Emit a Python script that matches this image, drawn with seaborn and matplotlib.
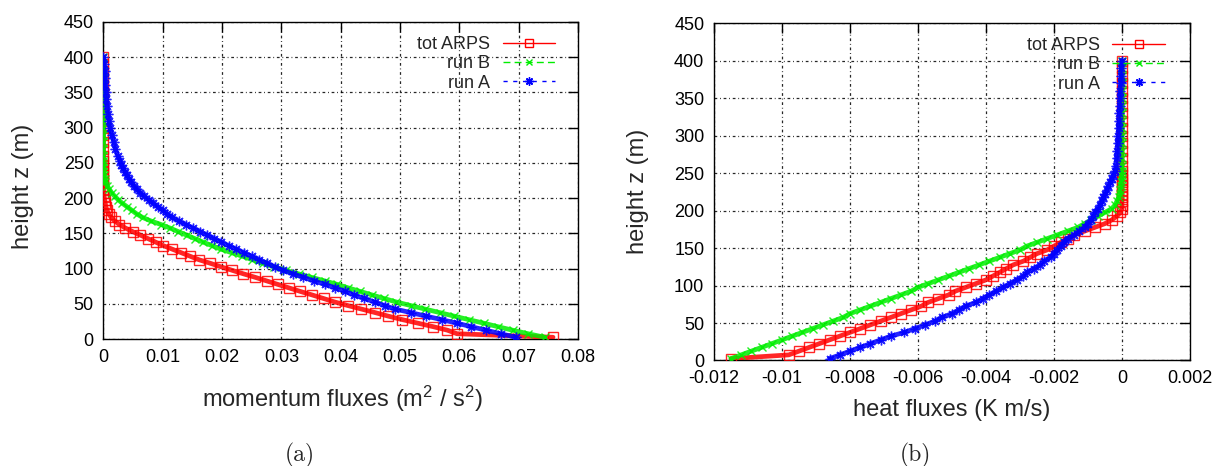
import matplotlib
matplotlib.use("Agg")
import matplotlib.pyplot as plt
import seaborn as sns

# ---------------- data ----------------
z = [2.5, 7.5, 12.5, 17.5, 22.5, 27.5, 32.5, 37.5, 42.5, 47.5,
     52.5, 57.5, 62.5, 67.5, 72.5, 77.5, 82.5, 87.5, 92.5, 97.5,
     102.5, 107.5, 112.5, 117.5, 122.5, 127.5, 132.5, 137.5, 142.5, 147.5,
     152.5, 157.5, 162.5, 167.5, 172.5, 177.5, 182.5, 187.5, 192.5, 197.5,
     202.5, 207.5, 212.5, 217.5, 222.5, 227.5, 232.5, 237.5, 242.5, 247.5,
     252.5, 260, 270, 280, 290, 300, 310, 320, 330, 340,
     350, 360, 370, 380, 390, 400]

mom_tot_arps = [0.0758, 0.0596, 0.0580, 0.0556, 0.0530, 0.0504, 0.0480, 0.0458, 0.0435, 0.0412,
                0.0390, 0.0371, 0.0352, 0.0332, 0.0313, 0.0294, 0.0275, 0.0256, 0.0236, 0.0217,
                0.0198, 0.0180, 0.0161, 0.0146, 0.0131, 0.0116, 0.0101, 0.0088, 0.0075, 0.0062,
                0.0049, 0.0037, 0.0027, 0.0019, 0.0013, 0.0009, 0.0006, 0.0004, 0.0003, 0.0002,
                0.0001, 0.0, 0.0, 0.0, 0.0, 0.0, 0.0, 0.0, 0.0, 0.0,
                0.0, 0.0, 0.0, 0.0, 0.0, 0.0, 0.0, 0.0, 0.0, 0.0,
                0.0, 0.0, 0.0, 0.0, 0.0, 0.0]

mom_run_b = [0.0744, 0.0716, 0.0690, 0.0665, 0.0641, 0.0616, 0.0591, 0.0567, 0.0542, 0.0518,
             0.0494, 0.0473, 0.0453, 0.0433, 0.0413, 0.0394, 0.0373, 0.0351, 0.0329, 0.0307,
             0.0287, 0.0269, 0.0251, 0.0234, 0.0216, 0.0198, 0.0183, 0.0168, 0.0154, 0.0140,
             0.0126, 0.0112, 0.0097, 0.0080, 0.0066, 0.0056, 0.0048, 0.0040, 0.0032, 0.0025,
             0.0019, 0.0014, 0.0010, 0.0006, 0.0003, 0.0002, 0.0001, 0.0, 0.0, 0.0,
             0.0, 0.0, 0.0, 0.0, 0.0, 0.0, 0.0, 0.0, 0.0, 0.0,
             0.0, 0.0, 0.0, 0.0, 0.0, 0.0]

mom_run_a = [0.0695, 0.0670, 0.0645, 0.0620, 0.0596, 0.0570, 0.0544, 0.0518, 0.0492, 0.0474,
             0.0457, 0.0440, 0.0423, 0.0407, 0.0391, 0.0373, 0.0355, 0.0337, 0.0320, 0.0302,
             0.0289, 0.0276, 0.0263, 0.0250, 0.0237, 0.0224, 0.0211, 0.0199, 0.0187, 0.0175,
             0.0163, 0.0151, 0.0139, 0.0127, 0.0116, 0.0107, 0.0100, 0.0092, 0.0084, 0.0076,
             0.0069, 0.0062, 0.0056, 0.0051, 0.0047, 0.0043, 0.0039, 0.0036, 0.0033, 0.0030,
             0.0028, 0.0024, 0.0020, 0.0017, 0.0014, 0.0011, 0.0009, 0.0008, 0.0006, 0.0005,
             0.0004, 0.0003, 0.0002, 0.0002, 0.0001, 0.0]

heat_tot_arps = [-0.0115, -0.0098, -0.0095, -0.0092, -0.0089, -0.0086, -0.0083, -0.0080, -0.0077, -0.0074,
                 -0.0071, -0.0068, -0.0065, -0.0062, -0.0059, -0.0057, -0.0054, -0.0051, -0.0049, -0.0046,
                 -0.0043, -0.0040, -0.0038, -0.0036, -0.0034, -0.0032, -0.0029, -0.0027, -0.0025, -0.0022,
                 -0.0020, -0.0018, -0.0016, -0.0014, -0.0011, -0.0008, -0.0005, -0.0003, -0.00015, -0.00005,
                 0.0, 0.0, 0.0, 0.0, 0.0, 0.0, 0.0, 0.0, 0.0, 0.0,
                 0.0, 0.0, 0.0, 0.0, 0.0, 0.0, 0.0, 0.0, 0.0, 0.0,
                 0.0, 0.0, 0.0, 0.0, 0.0, 0.0]

heat_run_b = [-0.0115, -0.0112, -0.0109, -0.0106, -0.0103, -0.0100, -0.0097, -0.0094, -0.0091, -0.0088,
              -0.0085, -0.0082, -0.0080, -0.0077, -0.0074, -0.0071, -0.0068, -0.0065, -0.0062, -0.0060,
              -0.0057, -0.0054, -0.0051, -0.0048, -0.0045, -0.0042, -0.0039, -0.0036, -0.0033, -0.0030,
              -0.0028, -0.0025, -0.0022, -0.0019, -0.0016, -0.0013, -0.0011, -0.0009, -0.0007, -0.0005,
              -0.0003, -0.0002, -0.00015, -0.0001, -0.00007, -0.00005, -0.00003, -0.00002, -0.00001, 0.0,
              0.0, 0.0, 0.0, 0.0, 0.0, 0.0, 0.0, 0.0, 0.0, 0.0,
              0.0, 0.0, 0.0, 0.0, 0.0, 0.0]

heat_run_a = [-0.0086, -0.0083, -0.0080, -0.0077, -0.0074, -0.0071, -0.0068, -0.0064, -0.0061, -0.0058,
              -0.0055, -0.0053, -0.0050, -0.0048, -0.0046, -0.0043, -0.0041, -0.0039, -0.0037, -0.0035,
              -0.0033, -0.0031, -0.0029, -0.0028, -0.0026, -0.0024, -0.0023, -0.0021, -0.0020, -0.0019,
              -0.0018, -0.0017, -0.0016, -0.0014, -0.00125, -0.0011, -0.0010, -0.0009, -0.00085, -0.0008,
              -0.0007, -0.00065, -0.0006, -0.00055, -0.0005, -0.00045, -0.0004, -0.00035, -0.0003, -0.00025,
              -0.0002, -0.00018, -0.00016, -0.00014, -0.00013, -0.00011, -0.0001, -0.00009, -0.00008, -0.00007,
              -0.00006, -0.00005, -0.00004, -0.00003, -0.00002, 0.0]

series_labels = ["tot ARPS", "run B", "run A"]

y_ticks = [0, 50, 100, 150, 200, 250, 300, 350, 400, 450]
mom_xticks = [0, 0.01, 0.02, 0.03, 0.04, 0.05, 0.06, 0.07, 0.08]
mom_xticklabels = ["0", "0.01", "0.02", "0.03", "0.04", "0.05", "0.06", "0.07", "0.08"]
heat_xticks = [-0.012, -0.010, -0.008, -0.006, -0.004, -0.002, 0.0, 0.002]
heat_xticklabels = ["-0.012", "-0.01", "-0.008", "-0.006", "-0.004", "-0.002", "0", "0.002"]

y_label = "height z (m)"
mom_xlabel = "momentum fluxes (m$^2$ / s$^2$)"
heat_xlabel = "heat fluxes (K m/s)"
captions = ["(a)", "(b)"]

# ---------------- style ----------------
sns.set_style("white")
plt.rcParams["font.family"] = ["Liberation Sans", "DejaVu Sans"]
plt.rcParams["mathtext.fontset"] = "custom"
plt.rcParams["mathtext.rm"] = "Liberation Sans"
plt.rcParams["mathtext.it"] = "Liberation Sans:italic"
plt.rcParams["axes.unicode_minus"] = False

styles = [
    dict(color="#ff0000", marker="s", markersize=6.5, markerfacecolor="none",
         markeredgecolor="#ff0000", markeredgewidth=1.0, linewidth=3.4, linestyle="-"),
    dict(color="#00ee00", marker="x", markersize=5.5, markerfacecolor="none",
         markeredgecolor="#00ee00", markeredgewidth=1.0, linewidth=3.4, linestyle="-"),
    dict(color="#0000ff", marker=(8, 2, 0), markersize=7, markerfacecolor="none",
         markeredgecolor="#0000ff", markeredgewidth=1.0, linewidth=3.4, linestyle="-"),
]
legend_ls = ["-", (0, (5, 3)), (0, (3, 4))]
legend_ms = [5.5, 5, 6]

fig = plt.figure(figsize=(12.26, 4.66), dpi=100)
ax1 = fig.add_axes([0.0844, 0.2725, 0.3870, 0.6805])
ax2 = fig.add_axes([0.5824, 0.2264, 0.3882, 0.7242])

panels = [
    (ax1, [mom_tot_arps, mom_run_b, mom_run_a], mom_xticks, mom_xticklabels,
     (0, 0.08), mom_xlabel, (0.503, -0.14), (-0.147, 0.48), (0.952, 0.955)),
    (ax2, [heat_tot_arps, heat_run_b, heat_run_a], heat_xticks, heat_xticklabels,
     (-0.012, 0.002), heat_xlabel, (0.5, -0.113), (-0.136, 0.5), (0.947, 0.958)),
]

for ax, series, xt, xtl, xlim, xlabel, xlab_pos, ylab_pos, leg_pos in panels:
    for vals, lab, st in zip(series, series_labels, styles):
        sns.lineplot(x=vals, y=z, sort=False, estimator=None, ax=ax,
                     label=lab, zorder=3, alpha=0.85, **st)
    ax.set_xlim(*xlim)
    ax.set_ylim(0, 450)
    ax.set_xticks(xt)
    ax.set_xticklabels(xtl)
    ax.set_yticks(y_ticks)
    ax.grid(True, color="black", linestyle=(0, (2.2, 2.2, 0.7, 2.2)),
            linewidth=0.9, alpha=0.85, zorder=0)
    ax.set_axisbelow(True)
    for sp in ax.spines.values():
        sp.set_visible(True)
        sp.set_color("black")
        sp.set_linewidth(1.0)
    ax.tick_params(direction="in", length=7, width=1, top=True, right=True,
                   labelsize=13, colors="black", pad=7)
    ax.set_xlabel(xlabel, fontsize=17)
    ax.set_ylabel(y_label, fontsize=17)
    ax.xaxis.set_label_coords(*xlab_pos)
    ax.yaxis.set_label_coords(*ylab_pos)
    handles, labels = ax.get_legend_handles_labels()
    leg = ax.legend(handles, labels, loc="upper right", bbox_to_anchor=leg_pos,
                    markerfirst=False, frameon=False, fontsize=13,
                    handlelength=2.9, handletextpad=0.7, labelspacing=0.12,
                    borderaxespad=0, borderpad=0, numpoints=1)
    for ln, ls, ms in zip(leg.get_lines(), legend_ls, legend_ms):
        ln.set_linewidth(1.0)
        ln.set_linestyle(ls)
        ln.set_markersize(ms)
        ln.set_alpha(1.0)

fig.text(300 / 1226, 1 - 455 / 466, captions[0], family="cmr10",
         fontsize=17, ha="center", va="center")
fig.text(915 / 1226, 1 - 455 / 466, captions[1], family="cmr10",
         fontsize=17, ha="center", va="center")

fig.savefig("out.png", dpi=100)
